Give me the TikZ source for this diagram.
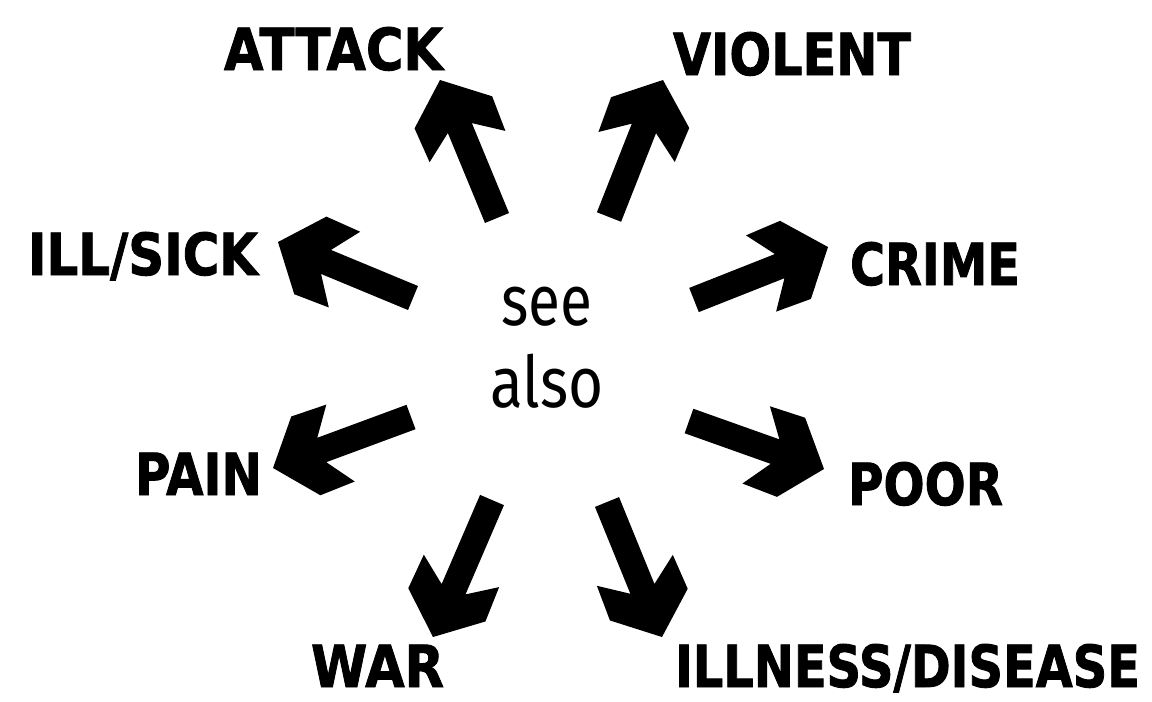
\documentclass[tikz,border=0pt]{standalone}
\usepackage{fontspec}
\usepackage{graphicx}
\usetikzlibrary{calc}
\newfontfamily\labfont{DejaVu Sans Bold}[FakeBold=1.6]
\newfontfamily\seefont{Fira Sans}
\newcommand\fitw[2]{\resizebox{#1}{\height}{#2}}
% fat arrow: #1 tail coordinate, #2 tip coordinate
\newcommand\fatarrow[2]{%
  \fill[arrowfill] (#2)
    -- ($(#2)!26.25pt!(#1)!31.5pt!90:(#1)$)
    -- ($(#2)!54pt!(#1)!30.75pt!90:(#1)$)
    -- ($(#2)!39pt!(#1)!9.75pt!90:(#1)$)
    -- ($(#1)!9.75pt!-90:(#2)$)
    -- ($(#1)!9.75pt!90:(#2)$)
    -- ($(#2)!39pt!(#1)!9.75pt!-90:(#1)$)
    -- ($(#2)!54pt!(#1)!30.75pt!-90:(#1)$)
    -- ($(#2)!26.25pt!(#1)!31.5pt!-90:(#1)$)
    -- cycle;}
\tikzset{
  lab/.style={font=\labfont\fontsize{43.5}{50}\selectfont, inner sep=0pt, anchor=base},
  arrowfill/.style={fill=black},
}
\begin{document}
\begin{tikzpicture}[x=0.75pt,y=-0.75pt]
\useasboundingbox (0,0) rectangle (1152,701);
\fill[white] (0,0) rectangle (1152,701);

% centre text (base anchor = baseline of the last line)
\node[font=\seefont\fontsize{53.5}{61.5}\selectfont, align=center, inner sep=0pt, anchor=base] (see) at (547,407) {\fitw{68.25pt}{see}\\\fitw{84.75pt}{also}};

% labels
\node[lab] (attack)  at (333.5,70) {\fitw{164.25pt}{ATTACK}};
\node[lab] (violent) at (792,75)   {\fitw{178.5pt}{VIOLENT}};
\node[lab] (illsick) at (143,275)  {\fitw{172.5pt}{ILL/SICK}};
\node[lab] (crime)   at (935,285)  {\fitw{127.5pt}{CRIME}};
\node[lab] (pain)    at (198.5,495){\fitw{95.25pt}{PAIN}};
\node[lab] (poor)    at (925.5,505){\fitw{116.25pt}{POOR}};
\node[lab] (war)     at (377.5,687){\fitw{99.75pt}{WAR}};
\node[lab] (illness) at (907.5,687){\fitw{348.75pt}{ILLNESS/DISEASE}};

% arrow ends
\coordinate (attackT)  at (497,218); \coordinate (attackH)  at (440,80);
\coordinate (violentT) at (609,217); \coordinate (violentH) at (663,80);
\coordinate (crimeT)   at (694,300); \coordinate (crimeH)   at (828,247);
\coordinate (poorT)    at (689,421); \coordinate (poorH)    at (824,469);
\coordinate (illnessT) at (607,502); \coordinate (illnessH) at (662,637);
\coordinate (warT)     at (492,500); \coordinate (warH)     at (433,637);
\coordinate (painT)    at (411,417); \coordinate (painH)    at (273,468);
\coordinate (illsickT) at (413,298); \coordinate (illsickH) at (278,242);

\fatarrow{attackT}{attackH}
\fatarrow{violentT}{violentH}
\fatarrow{crimeT}{crimeH}
\fatarrow{poorT}{poorH}
\fatarrow{illnessT}{illnessH}
\fatarrow{warT}{warH}
\fatarrow{painT}{painH}
\fatarrow{illsickT}{illsickH}
\end{tikzpicture}
\end{document}
